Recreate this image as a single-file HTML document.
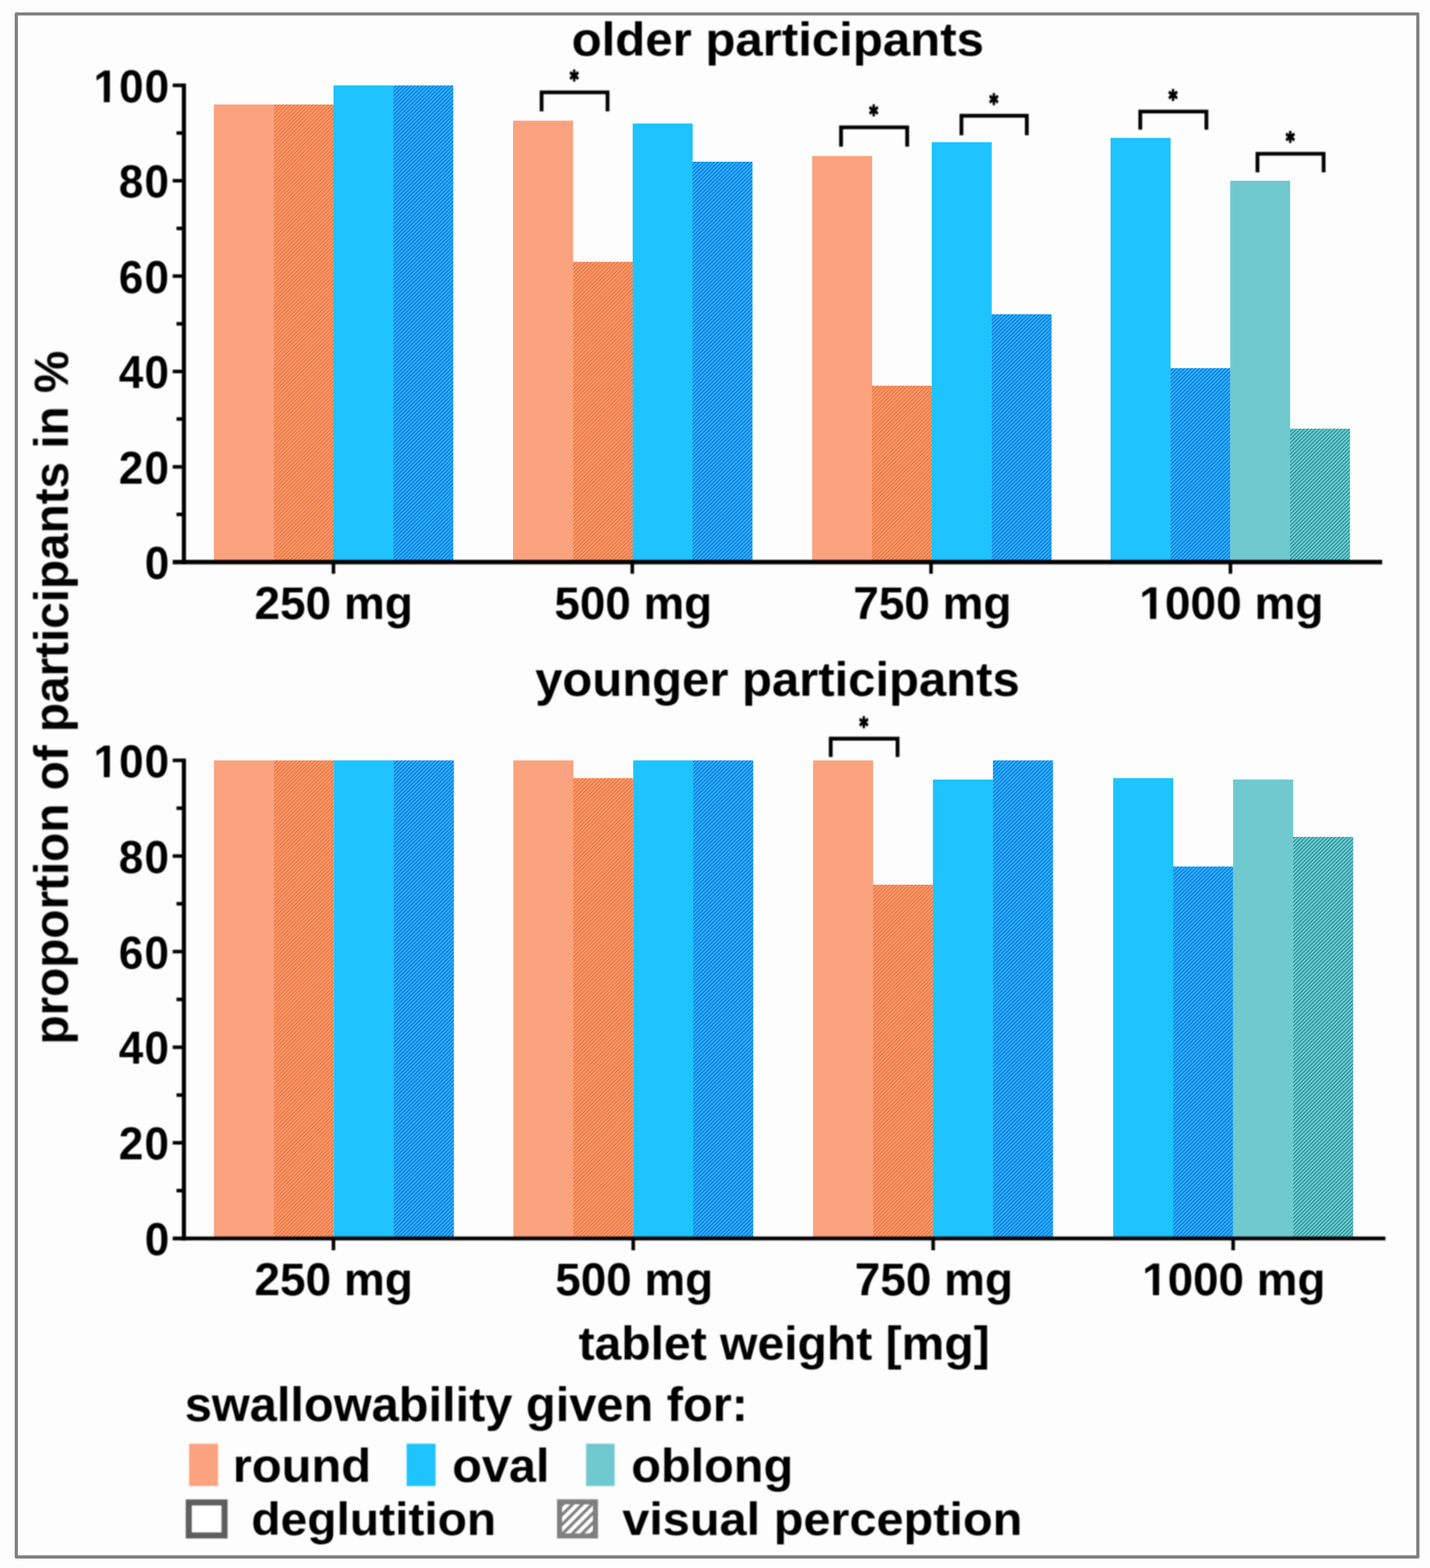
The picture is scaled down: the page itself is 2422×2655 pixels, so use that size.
<!DOCTYPE html>
<html lang="en"><head><meta charset="utf-8"><title>Swallowability of tablets by weight and shape</title>
<style>
html,body{margin:0;padding:0;background:#fdfdfd;}
body{width:2422px;height:2655px;overflow:hidden;}
svg{display:block;}
text{font-family:"Liberation Sans", sans-serif;font-weight:bold;fill:#000;}
.tk{font-size:78px;}
.yl{letter-spacing:2px;}
.tt{font-size:82px;}
.ax{stroke:#000;fill:none;}
.br{stroke:#000;stroke-width:6.4;fill:none;stroke-linejoin:miter;}
.st{font-family:"DejaVu Sans","Liberation Sans",sans-serif;font-size:36px;stroke:#000;stroke-width:2.2px;stroke-linejoin:round;}
</style></head><body>
<svg width="2422" height="2655" viewBox="0 0 2422 2655">
<defs>
<pattern id="hr" patternUnits="userSpaceOnUse" width="4.5" height="4.5" patternTransform="rotate(45)"><rect width="4.5" height="4.5" fill="#ff9d72"/><rect width="2.07" height="4.5" fill="#e9763f"/></pattern>
<pattern id="ho" patternUnits="userSpaceOnUse" width="4.5" height="4.5" patternTransform="rotate(45)"><rect width="4.5" height="4.5" fill="#30b4ff"/><rect width="2.07" height="4.5" fill="#0c7ce0"/></pattern>
<pattern id="hb" patternUnits="userSpaceOnUse" width="4.5" height="4.5" patternTransform="rotate(45)"><rect width="4.5" height="4.5" fill="#6dd0d6"/><rect width="2.07" height="4.5" fill="#33939a"/></pattern>
<pattern id="hg" patternUnits="userSpaceOnUse" width="11.6" height="11.6" patternTransform="rotate(45) translate(2 0)"><rect width="11.6" height="11.6" fill="#ffffff"/><rect width="5" height="11.6" fill="#7f7f7f"/></pattern>
<filter id="soft" color-interpolation-filters="sRGB" filterUnits="userSpaceOnUse" x="0" y="0" width="2422" height="2655"><feGaussianBlur stdDeviation="0.9"/></filter>
<filter id="soft2" color-interpolation-filters="sRGB" filterUnits="userSpaceOnUse" x="0" y="0" width="2422" height="2655"><feGaussianBlur stdDeviation="0.55"/></filter>
</defs>
<rect x="0" y="0" width="2422" height="2655" fill="#fdfdfd"/>
<g id="bars" filter="url(#soft2)">
<g id="bars-older">
<rect x="362.2" y="176.9" width="101.6" height="774.9" fill="#fba37f"/>
<rect x="463.5" y="176.9" width="101.6" height="774.9" fill="url(#hr)"/>
<rect x="564.8" y="144.6" width="101.6" height="807.2" fill="#1ec3ff"/>
<rect x="666.1" y="144.6" width="101.6" height="807.2" fill="url(#ho)"/>
<rect x="869.0" y="204.3" width="101.6" height="747.5" fill="#fba37f"/>
<rect x="970.3" y="443.3" width="101.6" height="508.5" fill="url(#hr)"/>
<rect x="1071.6" y="209.2" width="101.6" height="742.6" fill="#1ec3ff"/>
<rect x="1172.9" y="273.8" width="101.6" height="678.0" fill="url(#ho)"/>
<rect x="1375.5" y="264.1" width="101.6" height="687.7" fill="#fba37f"/>
<rect x="1476.8" y="653.1" width="101.6" height="298.7" fill="url(#hr)"/>
<rect x="1578.1" y="240.7" width="101.6" height="711.1" fill="#1ec3ff"/>
<rect x="1679.4" y="532.1" width="101.6" height="419.7" fill="url(#ho)"/>
<rect x="1881.0" y="233.4" width="101.6" height="718.4" fill="#1ec3ff"/>
<rect x="1982.3" y="623.3" width="101.6" height="328.5" fill="url(#ho)"/>
<rect x="2083.6" y="306.0" width="101.6" height="645.8" fill="#71c9d0"/>
<rect x="2184.9" y="725.8" width="101.6" height="226.0" fill="url(#hb)"/>
</g>
<g id="bars-younger">
<rect x="362.4" y="1287.5" width="101.8" height="809.5" fill="#fba37f"/>
<rect x="463.9" y="1287.5" width="101.8" height="809.5" fill="url(#hr)"/>
<rect x="565.5" y="1287.5" width="101.8" height="809.5" fill="#1ec3ff"/>
<rect x="667.0" y="1287.5" width="101.8" height="809.5" fill="url(#ho)"/>
<rect x="869.4" y="1287.5" width="101.8" height="809.5" fill="#fba37f"/>
<rect x="970.9" y="1317.5" width="101.8" height="779.5" fill="url(#hr)"/>
<rect x="1072.5" y="1287.5" width="101.8" height="809.5" fill="#1ec3ff"/>
<rect x="1174.0" y="1287.5" width="101.8" height="809.5" fill="url(#ho)"/>
<rect x="1377.0" y="1287.5" width="101.8" height="809.5" fill="#fba37f"/>
<rect x="1478.5" y="1498.0" width="101.8" height="599.0" fill="url(#hr)"/>
<rect x="1580.1" y="1319.9" width="101.8" height="777.1" fill="#1ec3ff"/>
<rect x="1681.7" y="1287.5" width="101.8" height="809.5" fill="url(#ho)"/>
<rect x="1885.4" y="1317.5" width="101.8" height="779.5" fill="#1ec3ff"/>
<rect x="1987.0" y="1467.2" width="101.8" height="629.8" fill="url(#ho)"/>
<rect x="2088.5" y="1319.9" width="101.8" height="777.1" fill="#71c9d0"/>
<rect x="2190.1" y="1417.0" width="101.8" height="680.0" fill="url(#hb)"/>
</g>
</g>
<g id="ink" filter="url(#soft)">
<g id="axes-older">
<path class="ax" stroke-width="7" d="M311.5 141.6 V955.3"/>
<path class="ax" stroke-width="7.4" d="M292.5 951.8 H2341.0"/>
<path class="ax" stroke-width="6" d="M299.0 871.1 H311.5 M292.5 790.4 H311.5 M299.0 709.6 H311.5 M292.5 628.9 H311.5 M299.0 548.2 H311.5 M292.5 467.5 H311.5 M299.0 386.8 H311.5 M292.5 306.0 H311.5 M299.0 225.3 H311.5 M292.5 144.6 H311.5 M564.8 951.8 V971.5 M1070.9 951.8 V971.5 M1576.9 951.8 V971.5 M2084.0 951.8 V971.5"/>
<text class="tk yl" transform="translate(245.30 980.00) scale(0.9550 1.0000)">0</text>
<text class="tk yl" transform="translate(201.37 818.56) scale(0.9550 1.0000)">20</text>
<text class="tk yl" transform="translate(201.37 657.12) scale(0.9550 1.0000)">40</text>
<text class="tk yl" transform="translate(201.37 495.68) scale(0.9550 1.0000)">60</text>
<text class="tk yl" transform="translate(201.37 334.24) scale(0.9550 1.0000)">80</text>
<g transform="translate(158.40 172.80) scale(0.9550 1.0000)"><text class="tk yl">100</text><path fill="#fdfdfd" d="M3 -8.3H18.3V1.5H3Z M28.7 -8.3H43V1.5H28.7Z"/></g>
<text class="tk" transform="translate(431.01 1048.00) scale(0.9977 1.0000)">250 mg</text>
<text class="tk" transform="translate(939.02 1048.00) scale(0.9939 1.0000)">500 mg</text>
<text class="tk" transform="translate(1445.21 1048.00) scale(0.9969 1.0000)">750 mg</text>
<g transform="translate(1929.60 1048.00) scale(0.9993 1.0000)"><text class="tk">1000 mg</text><path fill="#fdfdfd" d="M3 -8.3H18.3V1.5H3Z M28.7 -8.3H43V1.5H28.7Z"/></g>
<path class="br" d="M917.3 188.5 V156.4 H1029.0 V188.5"/>
<text class="st" transform="translate(972.5 148.2) scale(0.8 1.1)" text-anchor="middle">*</text>
<path class="br" d="M1424.5 248.2 V215.6 H1536.5 V248.2"/>
<text class="st" transform="translate(1479.9 207.4) scale(0.8 1.1)" text-anchor="middle">*</text>
<path class="br" d="M1628.4 229.1 V196.0 H1739.1 V229.1"/>
<text class="st" transform="translate(1683.2 187.8) scale(0.8 1.1)" text-anchor="middle">*</text>
<path class="br" d="M1931.3 219.6 V188.9 H2043.3 V219.6"/>
<text class="st" transform="translate(1986.7 180.7) scale(0.8 1.1)" text-anchor="middle">*</text>
<path class="br" d="M2129.8 291.7 V260.4 H2241.8 V291.7"/>
<text class="st" transform="translate(2185.2 252.2) scale(0.8 1.1)" text-anchor="middle">*</text>
</g>
<g id="axes-younger">
<path class="ax" stroke-width="7" d="M311.5 1284.5 V2100.5"/>
<path class="ax" stroke-width="6.4" d="M292.5 2097.0 H2346.5"/>
<path class="ax" stroke-width="6" d="M299.0 2016.0 H311.5 M292.5 1935.1 H311.5 M299.0 1854.2 H311.5 M292.5 1773.2 H311.5 M299.0 1692.2 H311.5 M292.5 1611.3 H311.5 M299.0 1530.3 H311.5 M292.5 1449.4 H311.5 M299.0 1368.4 H311.5 M292.5 1287.5 H311.5 M564.8 2097.0 V2117.0 M1072.5 2097.0 V2117.0 M1580.5 2097.0 V2117.0 M2088.6 2097.0 V2117.0"/>
<text class="tk yl" transform="translate(245.30 2125.20) scale(0.9550 1.0000)">0</text>
<text class="tk yl" transform="translate(201.37 1963.30) scale(0.9550 1.0000)">20</text>
<text class="tk yl" transform="translate(201.37 1801.40) scale(0.9550 1.0000)">40</text>
<text class="tk yl" transform="translate(201.37 1639.50) scale(0.9550 1.0000)">60</text>
<text class="tk yl" transform="translate(201.37 1477.60) scale(0.9550 1.0000)">80</text>
<g transform="translate(158.40 1315.70) scale(0.9550 1.0000)"><text class="tk yl">100</text><path fill="#fdfdfd" d="M3 -8.3H18.3V1.5H3Z M28.7 -8.3H43V1.5H28.7Z"/></g>
<text class="tk" transform="translate(431.01 2193.10) scale(0.9977 1.0000)">250 mg</text>
<text class="tk" transform="translate(940.62 2193.10) scale(0.9939 1.0000)">500 mg</text>
<text class="tk" transform="translate(1447.81 2193.10) scale(0.9969 1.0000)">750 mg</text>
<g transform="translate(1934.53 2193.10) scale(0.9937 1.0000)"><text class="tk">1000 mg</text><path fill="#fdfdfd" d="M3 -8.3H18.3V1.5H3Z M28.7 -8.3H43V1.5H28.7Z"/></g>
<path class="br" d="M1407.0 1281.8 V1250.8 H1520.2 V1281.8"/>
<text class="st" transform="translate(1463.0 1242.6) scale(0.8 1.1)" text-anchor="middle">*</text>
</g>
<g id="titles">
<text class="tt" transform="translate(968.15 94.10) scale(1.0151 0.9800)">older participants</text>
<text class="tt" transform="translate(906.39 1178.30) scale(1.0121 0.9870)">younger participants</text>
<text class="tt" transform="translate(979.91 2301.60) scale(0.9928 0.9700)">tablet weight [mg]</text>
<text class="tt" transform="translate(114.80 1768.62) rotate(-90) scale(0.9844 1.0000)">proportion of participants in %</text>
</g>
<g id="legend">
<text class="tt" transform="translate(312.88 2406.00) scale(1.0067 0.9900)">swallowability given for:</text>
<rect x="320.3" y="2444.5" width="49" height="71.7" fill="#fba37f"/>
<text class="tt" transform="translate(394.25 2509.00) scale(1.0095 0.9730)">round</text>
<rect x="688.7" y="2444.5" width="49" height="71.7" fill="#1ec3ff"/>
<text class="tt" transform="translate(765.99 2509.00) scale(1.0026 0.9730)">oval</text>
<rect x="992.6" y="2444.5" width="48.5" height="71.7" fill="#71c9d0"/>
<text class="tt" transform="translate(1069.19 2509.00) scale(1.0038 0.9730)">oblong</text>
<rect x="319.7" y="2544" width="60.6" height="55.9" fill="#ffffff" stroke="#5e5e5e" stroke-width="10.2"/>
<text class="tt" transform="translate(425.73 2599.10) scale(0.9898 0.9490)">deglutition</text>
<rect x="947.7" y="2542.9" width="60.8" height="57.8" fill="url(#hg)" stroke="#7f7f7f" stroke-width="8.5"/>
<text class="tt" transform="translate(1053.89 2599.10) scale(1.0051 0.9490)">visual perception</text>
</g>
</g>
<rect x="27.6" y="23.6" width="2373.8" height="2612.6" fill="none" stroke="#808080" stroke-width="5.4" stroke-linejoin="round"/>
</svg></body></html>
